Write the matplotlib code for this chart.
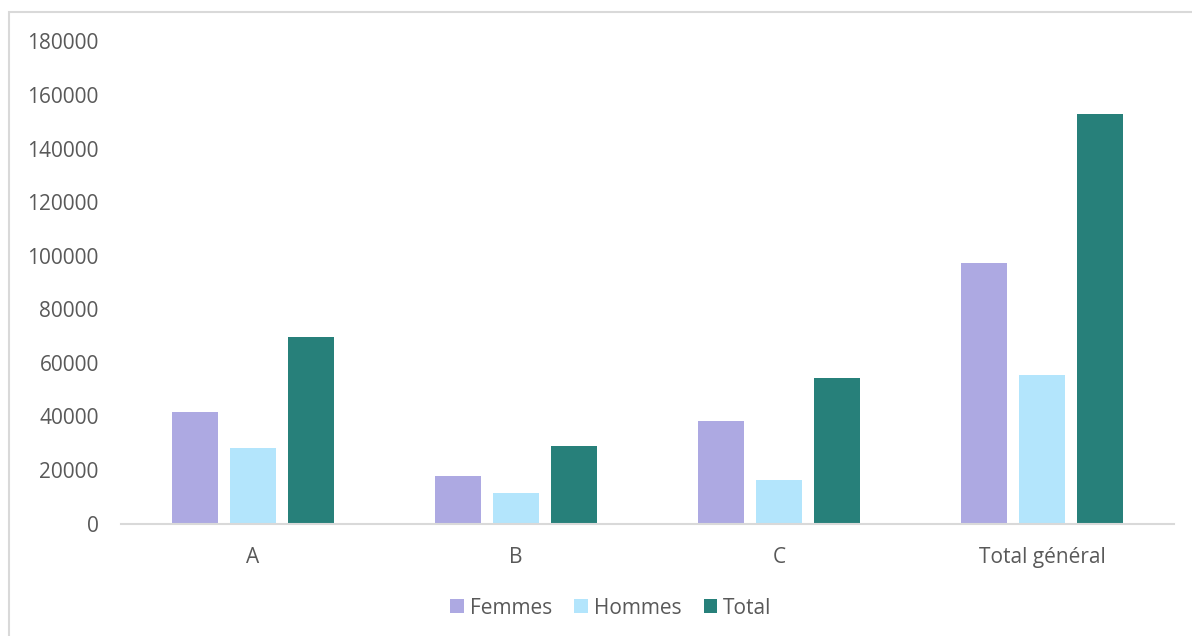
import matplotlib
matplotlib.use("Agg")
import matplotlib.pyplot as plt
from matplotlib.patches import Rectangle, Patch
import numpy as np

plt.rcParams['font.family'] = ['Open Sans', 'DejaVu Sans']

categories = ["A", "B", "C", "Total général"]
series_names = ["Femmes", "Hommes", "Total"]
femmes = [41500, 17600, 38300, 97400]
hommes = [28200, 11300, 16100, 55600]
total = [69700, 28900, 54400, 153000]
y_ticks = [0, 20000, 40000, 60000, 80000, 100000, 120000, 140000, 160000, 180000]

colors = ["#ADA9E2", "#B3E5FC", "#27807A"]
text_color = "#595959"
line_color = "#D9D9D9"

W, H = 1192, 636
fig = plt.figure(figsize=(W / 100, H / 100), dpi=100)

# chart-area frame
fig.patches.append(Rectangle((8.5 / W, -0.1), 1.2, 1.1 - 11.5 / H, transform=fig.transFigure,
                             fill=False, edgecolor=line_color, linewidth=1.5, zorder=0))

ax = fig.add_axes([121 / W, 112.5 / H, (1174 - 121) / W, 482 / H])

x = np.arange(len(categories))
width = 0.175
offset = 0.22
for i, (vals, name) in enumerate(zip([femmes, hommes, total], series_names)):
    ax.bar(x + (i - 1) * offset, vals, width, color=colors[i], label=name, zorder=2)

ax.set_xlim(-0.5, len(categories) - 0.5)
ax.set_ylim(0, 180000)
ax.set_yticks(y_ticks)
ax.set_yticklabels([str(v) for v in y_ticks])
ax.set_xticks(x)
ax.set_xticklabels(categories)

for s in ["top", "right", "left"]:
    ax.spines[s].set_visible(False)
ax.spines["bottom"].set_color(line_color)
ax.spines["bottom"].set_linewidth(1.5)

ax.tick_params(axis="y", length=0, pad=16, labelsize=15, labelcolor=text_color)
ax.tick_params(axis="x", length=0, pad=17, labelsize=15, labelcolor=text_color)

handles = [Patch(facecolor=c, edgecolor="none") for c in colors]
fig.legend(handles, series_names, loc="center", bbox_to_anchor=(611 / W, 1 - 608 / H),
           ncol=3, frameon=False, fontsize=15, labelcolor=text_color,
           handlelength=0.65, handleheight=0.65, handletextpad=0.3, columnspacing=1.05)

fig.savefig("out.png", dpi=100)
